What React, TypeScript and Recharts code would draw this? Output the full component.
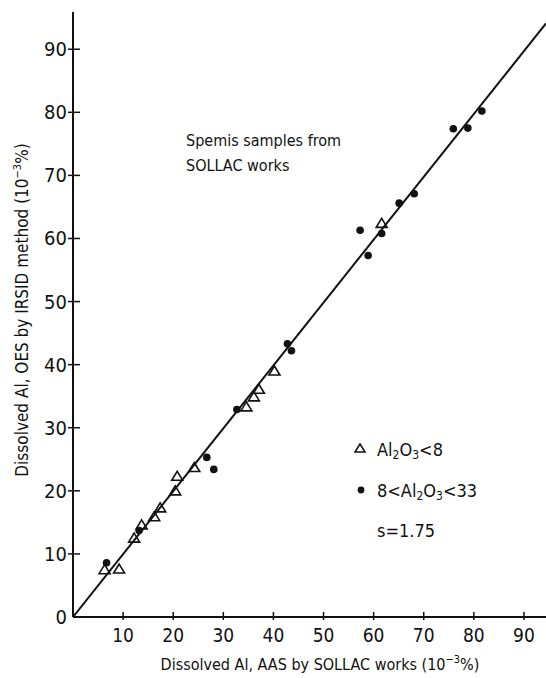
/**
 * Dissolved Al — OES (IRSID method) vs AAS (SOLLAC works) scatter with y≈x fit line.
 */
import { ScatterChart, Scatter, XAxis, YAxis } from 'recharts'

// Al2O3 < 8 (open triangles)
const TRI_AAS = [6.3, 9.2, 12.2, 13.7, 16.2, 17.4, 20.4, 20.8, 24.2, 34.6, 36.1, 37.1, 40.2, 61.6]
const TRI_OES = [7.5, 7.6, 12.5, 14.6, 15.9, 17.3, 20.0, 22.3, 23.7, 33.3, 34.9, 36.1, 39.0, 62.4]

// 8 < Al2O3 < 33 (filled dots)
const DOT_AAS = [6.7, 13.2, 26.7, 28.1, 32.7, 42.8, 43.6, 57.3, 58.9, 61.6, 65.1, 68.1, 75.9, 78.8, 81.6]
const DOT_OES = [8.6, 13.7, 25.3, 23.4, 32.9, 43.3, 42.2, 61.3, 57.3, 60.8, 65.6, 67.1, 77.4, 77.5, 80.2]

// regression line end points
const FIT_AAS = [0, 94.4]
const FIT_OES = [0, 94.1]

const X_TICKS = [10, 20, 30, 40, 50, 60, 70, 80, 90]
const Y_TICKS = [0, 10, 20, 30, 40, 50, 60, 70, 80, 90]

const zip = (xs: number[], ys: number[]) => xs.map((x, i) => ({ x, y: ys[i] }))
const triData = zip(TRI_AAS, TRI_OES)
const dotData = zip(DOT_AAS, DOT_OES)
const fitData = zip(FIT_AAS, FIT_OES)

const FONT = "'Liberation Sans Narrow', 'DejaVu Sans Condensed', 'Arial Narrow', 'Liberation Sans', sans-serif"
const INK = '#111'

const Triangle = ({ cx, cy }: any) => (
  <polygon
    points={`${cx},${cy - 5} ${cx + 5.5},${cy + 4} ${cx - 5.5},${cy + 4}`}
    fill="none"
    stroke={INK}
    strokeWidth={1.6}
  />
)

const Dot = ({ cx, cy }: any) => <circle cx={cx} cy={cy} r={3.8} fill={INK} />

const YTick = ({ x, y, payload }: any) => (
  <g>
    {payload.value !== 0 && <line x1={x - 5} x2={x + 7} y1={y} y2={y} stroke={INK} strokeWidth={1.5} />}
    <text x={x - 6} y={y + 7} textAnchor="end" fontSize={20} fontFamily={FONT} fill={INK}>
      {payload.value}
    </text>
  </g>
)

const XTick = ({ x, y, payload }: any) => (
  <g>
    <line x1={x} x2={x} y1={y - 5} y2={y + 3} stroke={INK} strokeWidth={1.5} />
    <text x={x} y={y + 25} textAnchor="middle" fontSize={19} fontFamily={FONT} fill={INK}>
      {payload.value}
    </text>
  </g>
)

const Sub = ({ children }: any) => (
  <tspan fontSize={12} dy={3}>{children}</tspan>
)

export default function App() {
  return (
    <div style={{ position: 'absolute', left: 0, top: 0, width: 546, height: 678, background: '#fff' }}>
      <ScatterChart width={546} height={678} margin={{ top: 12, right: 0, bottom: 0, left: 0 }}>
        <XAxis
          type="number"
          dataKey="x"
          domain={[0, 94.4]}
          ticks={X_TICKS}
          height={61}
          tickSize={0}
          tickMargin={0}
          tick={<XTick />}
          axisLine={{ stroke: INK, strokeWidth: 2 }}
          tickLine={false}
          allowDataOverflow
        />
        <YAxis
          type="number"
          dataKey="y"
          domain={[0, 95.9]}
          ticks={Y_TICKS}
          width={73}
          tickSize={0}
          tickMargin={0}
          tick={<YTick />}
          axisLine={{ stroke: INK, strokeWidth: 2 }}
          tickLine={false}
          allowDataOverflow
        />
        <Scatter data={fitData} line={{ stroke: INK, strokeWidth: 2 }} shape={() => null} isAnimationActive={false} />
        <Scatter data={triData} shape={<Triangle />} isAnimationActive={false} />
        <Scatter data={dotData} shape={<Dot />} isAnimationActive={false} />
      </ScatterChart>

      <svg width={546} height={678} style={{ position: 'absolute', left: 0, top: 0, pointerEvents: 'none' }}>
        <g fontFamily={FONT} fill={INK}>
          <text x={186} y={146} fontSize={16}>Spemis samples from</text>
          <text x={186} y={171} fontSize={16}>SOLLAC works</text>

          <polygon points="360,444 365,452 355,452" fill="none" stroke={INK} strokeWidth={1.5} />
          <text x={377} y={456} fontSize={18}>
            Al<Sub>2</Sub><tspan dy={-3}>O</tspan><Sub>3</Sub><tspan dy={-3}>{'<8'}</tspan>
          </text>
          <circle cx={361} cy={490} r={3.4} fill={INK} />
          <text x={377} y={497} fontSize={18}>
            {'8<Al'}<Sub>2</Sub><tspan dy={-3}>O</tspan><Sub>3</Sub><tspan dy={-3}>{'<33'}</tspan>
          </text>
          <text x={377} y={537} fontSize={18}>s=1.75</text>

          <text x={320} y={670} fontSize={16} textAnchor="middle">
            Dissolved Al, AAS by SOLLAC works (10<tspan fontSize={11} dy={-7}>−3</tspan><tspan dy={7}>%)</tspan>
          </text>
          <text x={0} y={0} fontSize={17} textAnchor="middle" transform="translate(28,310) rotate(-90)">
            Dissolved Al, OES by IRSID method (10<tspan fontSize={11} dy={-7}>−3</tspan><tspan dy={7}>%)</tspan>
          </text>
        </g>
      </svg>
    </div>
  )
}
